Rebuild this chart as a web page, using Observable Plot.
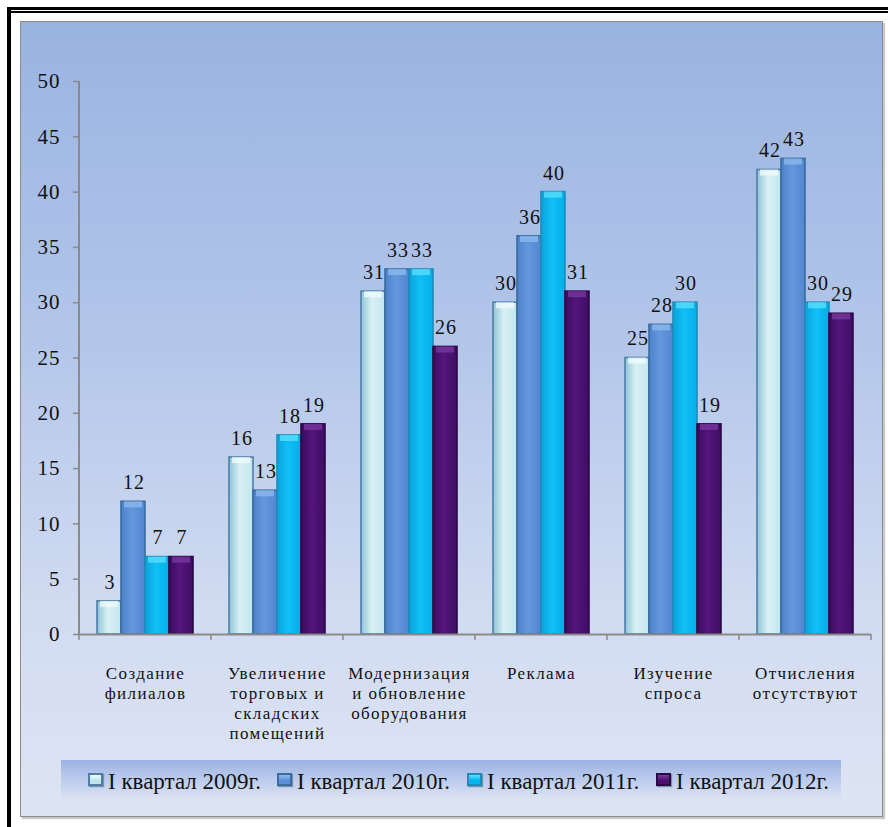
<!DOCTYPE html>
<html>
<head>
<meta charset="utf-8">
<script src="https://cdn.jsdelivr.net/npm/d3@7"></script>
<script src="https://cdn.jsdelivr.net/npm/@observablehq/plot@0.6"></script>
<style>
  html, body { margin: 0; padding: 0; background: #fff; }
  #wrap { position: relative; width: 888px; height: 827px; overflow: hidden; font-family: "Liberation Serif"; }
  .bk { position: absolute; background: #000; }
  #area { position: absolute; left: 20px; top: 21px; width: 861px; height: 794px;
    border: 1.5px solid #8c8c8c; box-shadow: 2px 2px 1px #c8c8c8;
    background: linear-gradient(to bottom, #99b3e1 0%, #b3c6ea 40%, #d2dcf1 75%, #dde4f3 100%); }
  #chart { position: absolute; left: 0; top: 0; }
  .fxlab text { letter-spacing: 1.4px; }
  .vals text, .ylab text { letter-spacing: 1px; }
  #legend { position: absolute; left: 61px; top: 760px; width: 780px; height: 40px;
    background: linear-gradient(to bottom, #9bb3e2 0%, #c3d1ee 60%, #dde4f3 100%);
    font-size: 23px; color: #111; font-family: "Liberation Serif"; }
  .item { position: absolute; top: 9px; display: flex; align-items: center; white-space: nowrap; line-height: 26px; }
  .sw { width: 15px; height: 13px; margin-right: 5px; box-sizing: border-box; margin-top: -5px; box-shadow: 1px 1px 1px #7890a8; }
</style>
</head>
<body>
<div id="wrap">
  <div class="bk" style="left:7px; top:7px; width:881px; height:3px;"></div>
  <div class="bk" style="left:11px; top:11px; width:877px; height:2px;"></div>
  <div class="bk" style="left:7px; top:7px; width:4px; height:820px;"></div>
  <div id="area"></div>
  <div id="chart"></div>
  <div id="legend"></div>
</div>
<script>
const categories = [
  "Создание\nфилиалов",
  "Увеличение\nторговых и\nскладских\nпомещений",
  "Модернизация\nи обновление\nоборудования",
  "Реклама",
  "Изучение\nспроса",
  "Отчисления\nотсутствуют"
];
const series = ["I квартал 2009г.", "I квартал 2010г.", "I квартал 2011г.", "I квартал 2012г."];
const q2009 = [3, 16, 31, 30, 25, 42];
const q2010 = [12, 13, 33, 36, 28, 43];
const q2011 = [7, 18, 33, 40, 30, 30];
const q2012 = [7, 19, 26, 31, 19, 29];
const yTicks = [0, 5, 10, 15, 20, 25, 30, 35, 40, 45, 50];

const seriesValues = [q2009, q2010, q2011, q2012];
const data = categories.flatMap((c, i) => series.map((s, j) => ({category: c, series: s, value: seriesValues[j][i]})));

const gradIds = ["g2009", "g2010", "g2011", "g2012"];
const strokes = ["#4f7ea6", "#3a6c9e", "#1d8cbb", "#2a0a45"];
const caps = ["#f2fcfd", "#8fbcef", "#5fe0ff", "#7a3aa0"];
const swatch = ["#bfe4ee", "#5b8fd9", "#00b6f1", "#4a106f"];
const font = "Liberation Serif";

const chart = Plot.plot({
  width: 888,
  height: 760,
  marginLeft: 78,
  marginRight: 17,
  marginTop: 81,
  marginBottom: 126,
  style: {background: "transparent", fontFamily: font, overflow: "visible", color: "#000"},
  fx: {domain: categories, padding: 0, label: null},
  x: {domain: series, paddingInner: 0, paddingOuter: 0.644, axis: null},
  y: {domain: [0, 50], label: null},
  marks: [
    ...series.map((s, j) => Plot.barY(data.filter(d => d.series === s), {
      fx: "category", x: "series", y: "value",
      fill: `url(#${gradIds[j]})`, stroke: strokes[j], strokeWidth: 1.6
    })),
    ...series.map((s, j) => Plot.barY(data.filter(d => d.series === s), {
      fx: "category", x: "series", y1: d => d.value, y2: d => Math.max(0, d.value - 0.55),
      fill: caps[j], fillOpacity: 0.75, insetLeft: 3, insetRight: 3
    })),
    Plot.text(data, {
      fx: "category", x: "series", y: "value", text: d => String(d.value),
      dy: -19, dx: 0.5, fontSize: 20, fill: "#111", lineAnchor: "middle", fontFamily: font, className: "vals"
    }),
    Plot.ruleY([0], {stroke: "#8a8a8a", strokeWidth: 2}),
    Plot.axisY({ticks: yTicks, tickSize: 6, tickPadding: 13, fontSize: 21, stroke: "#8a8a8a", strokeWidth: 1.5, fill: "#111", tickFormat: d => String(d), fontFamily: font, className: "ylab"}),
    Plot.axisFx({anchor: "bottom", tickSize: 0, tickPadding: 30, fontSize: 17, lineHeight: 1.18, fill: "#111", label: null, fontFamily: font, className: "fxlab"})
  ]
});
document.getElementById("chart").appendChild(chart);

const svg = d3.select(chart);
const defs = svg.insert("defs", ":first-child");
const gradStops = [
  ["#8fc3d6", "#d8f1f5", "#c2e6ee"],
  ["#4d80c8", "#6398de", "#5287d0"],
  ["#0aa2da", "#10c0f6", "#03aee6"],
  ["#3a0a5e", "#55167c", "#3e0c63"]
];
gradIds.forEach((id, j) => {
  const g = defs.append("linearGradient").attr("id", id).attr("x1", 0).attr("x2", 1).attr("y1", 0).attr("y2", 0);
  g.append("stop").attr("offset", "0%").attr("stop-color", gradStops[j][0]);
  g.append("stop").attr("offset", "45%").attr("stop-color", gradStops[j][1]);
  g.append("stop").attr("offset", "100%").attr("stop-color", gradStops[j][2]);
});

const ys = chart.scale("y");
const fxs = chart.scale("fx");
const y0 = ys.apply(0), y50 = ys.apply(50);
const left = fxs.apply(categories[0]);
const step = fxs.bandwidth;
svg.append("line").attr("x1", left).attr("x2", left).attr("y1", y50).attr("y2", y0)
  .attr("stroke", "#8a8a8a").attr("stroke-width", 2);
for (let i = 0; i <= categories.length; i++) {
  const x = left + i * step;
  svg.append("line").attr("x1", x).attr("x2", x).attr("y1", y0).attr("y2", y0 + 6)
    .attr("stroke", "#8a8a8a").attr("stroke-width", 1.5);
}

const legend = document.getElementById("legend");
const itemLeft = [27, 216, 406, 595];
series.forEach((s, j) => {
  const it = document.createElement("div");
  it.className = "item";
  it.style.left = itemLeft[j] + "px";
  it.innerHTML = `<div class="sw" style="background:linear-gradient(to bottom, ${caps[j]}, ${swatch[j]} 60%); border:2px solid ${strokes[j]}"></div><span>${s}</span>`;
  legend.appendChild(it);
});
</script>
</body>
</html>
